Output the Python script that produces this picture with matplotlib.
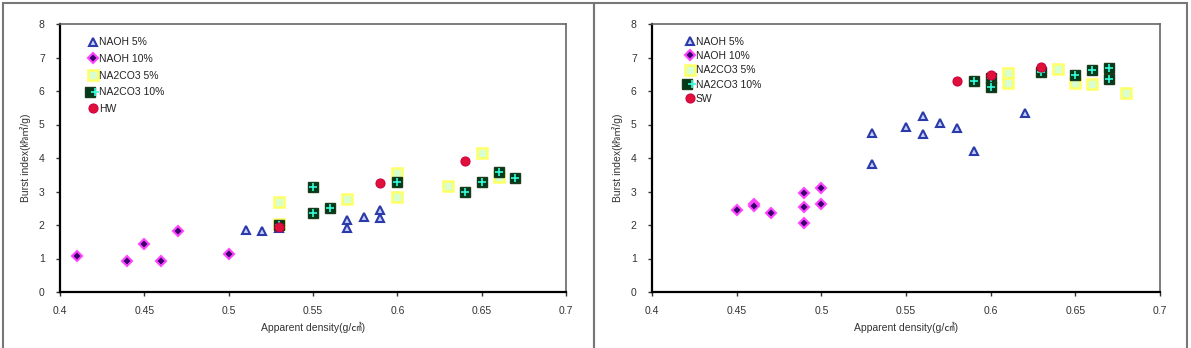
import matplotlib
matplotlib.use("Agg")
import matplotlib.pyplot as plt
from matplotlib.patches import Rectangle
from matplotlib.legend_handler import HandlerTuple

plt.rcParams['font.family'] = ['Liberation Sans', 'Noto Sans CJK KR']

# ---------- Left panel data ----------
L_naoh5_x = [0.51, 0.52, 0.53, 0.57, 0.57, 0.58, 0.59, 0.59]
L_naoh5_y = [1.85, 1.83, 1.92, 2.15, 1.90, 2.25, 2.45, 2.22]
L_naoh10_x = [0.41, 0.44, 0.45, 0.46, 0.47, 0.50]
L_naoh10_y = [1.07, 0.93, 1.43, 0.93, 1.82, 1.13]
L_na5_x = [0.53, 0.53, 0.57, 0.60, 0.60, 0.63, 0.65, 0.66]
L_na5_y = [2.70, 2.02, 2.77, 3.56, 2.85, 3.17, 4.16, 3.44]
L_na10_x = [0.53, 0.55, 0.55, 0.56, 0.60, 0.64, 0.65, 0.66, 0.67]
L_na10_y = [2.00, 3.12, 2.35, 2.52, 3.29, 2.99, 3.29, 3.59, 3.39]
L_hw_x = [0.53, 0.59, 0.64]
L_hw_y = [1.95, 3.24, 3.91]

# ---------- Right panel data ----------
R_naoh5_x = [0.53, 0.53, 0.55, 0.56, 0.56, 0.57, 0.58, 0.59, 0.62]
R_naoh5_y = [4.74, 3.83, 4.92, 5.25, 4.72, 5.05, 4.90, 4.20, 5.35]
R_naoh10_x = [0.45, 0.46, 0.46, 0.47, 0.49, 0.49, 0.49, 0.50, 0.50]
R_naoh10_y = [2.45, 2.63, 2.58, 2.35, 2.95, 2.55, 2.05, 3.10, 2.62]
R_na5_x = [0.61, 0.61, 0.64, 0.65, 0.66, 0.68]
R_na5_y = [6.53, 6.23, 6.66, 6.23, 6.20, 5.93]
R_na10_x = [0.59, 0.60, 0.60, 0.63, 0.65, 0.66, 0.67, 0.67]
R_na10_y = [6.30, 6.38, 6.13, 6.58, 6.48, 6.63, 6.70, 6.35]
R_sw_x = [0.58, 0.60, 0.63]
R_sw_y = [6.31, 6.48, 6.73]

labels_left = ['NAOH 5%', 'NAOH 10%', 'NA2CO3 5%', 'NA2CO3 10%', 'HW']
labels_right = ['NAOH 5%', 'NAOH 10%', 'NA2CO3 5%', 'NA2CO3 10%', 'SW']

xticks = [0.4, 0.45, 0.5, 0.55, 0.6, 0.65, 0.7]
xticklabels = ['0.4', '0.45', '0.5', '0.55', '0.6', '0.65', '0.7']
yticks = [0, 1, 2, 3, 4, 5, 6, 7, 8]

tri = dict(marker='^', ms=5.2, mfc='#c8d0ff', mec='#2a3aa8', mew=1.5, ls='none')
dia = dict(marker='D', ms=5.0, mfc='#3a0070', mec='#ff44ff', mew=1.5, ls='none')
ysq = dict(marker='s', ms=7.0, mfc='#d8ffd0', mec='#ffff66', mew=1.8, ls='none')
gsq = dict(marker='s', ms=7.0, mfc='#003a1a', mec='#1a3a1a', mew=1.0, ls='none')
plus = dict(marker='+', ms=5.5, mec='#33ffdd', mew=1.2, ls='none')
circ = dict(marker='o', ms=6.5, mfc='#e0103a', mec='#d00040', mew=0.8, ls='none')

fig = plt.figure(figsize=(11.91, 3.48), dpi=100)

# outer panel frames
fig.patches.append(Rectangle((3/1191, -0.01), 591/1191, 1.0 - 3/348 + 0.01,
                             transform=fig.transFigure, fill=False,
                             ec='#777777', lw=1.5))
fig.patches.append(Rectangle((594/1191, -0.01), 593/1191, 1.0 - 3/348 + 0.01,
                             transform=fig.transFigure, fill=False,
                             ec='#777777', lw=1.5))

def make_ax(rect, d, labels, ylabel, leg_anchor, spacing):
    ax = fig.add_axes(rect)
    (a5x, a5y), (a10x, a10y), (n5x, n5y), (n10x, n10y), (cx, cy) = d
    h1, = ax.plot(a5x, a5y, **tri)
    h2, = ax.plot(a10x, a10y, **dia)
    h3, = ax.plot(n5x, n5y, **ysq)
    h4a, = ax.plot(n10x, n10y, **gsq)
    h4b, = ax.plot(n10x, n10y, **plus)
    h5, = ax.plot(cx, cy, **circ)
    ax.set_xlim(0.4, 0.7)
    ax.set_ylim(0, 8)
    ax.set_xticks(xticks)
    ax.set_xticklabels(xticklabels)
    ax.set_yticks(yticks)
    ax.tick_params(axis='both', labelsize=7.5, colors='#333333', direction='out',
                   length=3, width=1)
    ax.tick_params(axis='y', pad=8)
    ax.tick_params(axis='x', pad=7)
    for s in ['left', 'bottom']:
        ax.spines[s].set_color('black')
        ax.spines[s].set_linewidth(1.6)
    for s in ['top', 'right']:
        ax.spines[s].set_color('#666666')
        ax.spines[s].set_linewidth(1.2)
    ax.set_xlabel('Apparent density(g/㎤)', fontsize=7.5, color='#333333', labelpad=4)
    ax.set_ylabel(ylabel, fontsize=7.5, color='#333333', labelpad=6)
    leg = ax.legend([h1, h2, h3, (h4a, h4b), h5], labels,
                    handler_map={tuple: HandlerTuple(ndivide=None, pad=0)},
                    loc='upper left', bbox_to_anchor=leg_anchor, frameon=False,
                    fontsize=7.5, handlelength=0.9, handletextpad=0.15,
                    labelspacing=spacing, borderpad=0, borderaxespad=0)
    for t in leg.get_texts():
        t.set_color('#222222')
    return ax

bottom = 56 / 348
height = (292 - 24) / 348
make_ax([60/1191, bottom, 506/1191, height],
        [(L_naoh5_x, L_naoh5_y), (L_naoh10_x, L_naoh10_y), (L_na5_x, L_na5_y),
         (L_na10_x, L_na10_y), (L_hw_x, L_hw_y)],
        labels_left, 'Burst index(㎪㎡/g)', (0.055, 0.95), 0.64)
make_ax([652/1191, bottom, 508/1191, height],
        [(R_naoh5_x, R_naoh5_y), (R_naoh10_x, R_naoh10_y), (R_na5_x, R_na5_y),
         (R_na10_x, R_na10_y), (R_sw_x, R_sw_y)],
        labels_right, 'Burst index(㎪㎡/g)', (0.065, 0.952), 0.41)

fig.savefig('out.png', dpi=100)
